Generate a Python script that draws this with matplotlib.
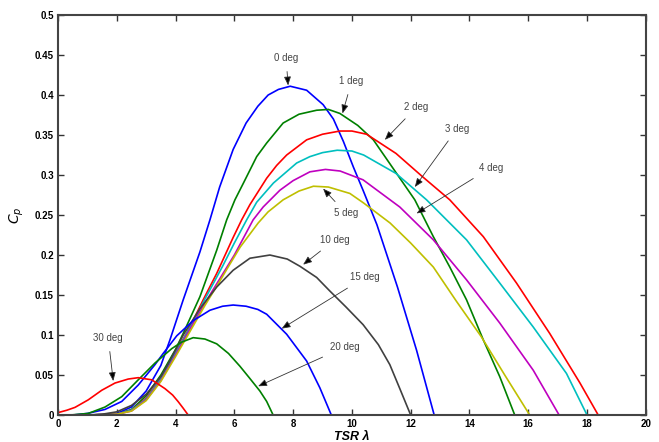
import matplotlib
matplotlib.use('Agg')
import matplotlib.pyplot as plt

# Cp vs tip speed ratio, one curve per pitch angle
lam_0 = [0, 1, 1.5, 2, 2.5, 3, 3.5, 3.81, 4.26, 4.83, 5.17, 5.5, 5.96, 6.4, 6.8, 7.15, 7.5, 7.9, 8.46, 9.02, 9.37, 9.71, 10.05, 10.39, 10.85, 11.55, 12.2, 12.8]
cp_0 = [0, 0, 0.0005, 0.002, 0.01, 0.03, 0.062, 0.094, 0.144, 0.204, 0.244, 0.285, 0.332, 0.365, 0.386, 0.4, 0.407, 0.411, 0.406, 0.388, 0.37, 0.342, 0.31, 0.28, 0.238, 0.16, 0.081, 0]

lam_1 = [0, 1, 2, 2.5, 3, 3.5, 4, 4.26, 4.83, 5.4, 5.74, 6.02, 6.31, 6.76, 7.1, 7.66, 8.2, 8.8, 9.2, 9.59, 10.2, 10.73, 11.52, 12.14, 12.77, 13.33, 13.9, 14.47, 15.03, 15.54]
cp_1 = [0, 0, 0.001, 0.007, 0.024, 0.05, 0.082, 0.102, 0.148, 0.206, 0.244, 0.269, 0.29, 0.323, 0.34, 0.365, 0.376, 0.381, 0.382, 0.377, 0.362, 0.344, 0.302, 0.269, 0.223, 0.185, 0.144, 0.094, 0.048, 0]

lam_2 = [0, 1, 2, 2.5, 3, 3.5, 4, 4.49, 4.94, 5.4, 5.96, 6.25, 6.53, 7.1, 7.44, 7.78, 8.46, 9.0, 9.59, 10.0, 10.5, 11.5, 12.4, 13.33, 14.47, 15.6, 16.73, 17.76, 18.38]
cp_2 = [0, 0, 0.001, 0.006, 0.021, 0.046, 0.078, 0.11, 0.144, 0.177, 0.222, 0.244, 0.263, 0.296, 0.312, 0.325, 0.344, 0.351, 0.355, 0.355, 0.351, 0.327, 0.298, 0.269, 0.223, 0.165, 0.102, 0.04, 0]

lam_3 = [0, 1, 2, 2.5, 3, 3.5, 4, 4.5, 5, 5.6, 6.0, 6.42, 6.76, 7.33, 8.12, 8.57, 9.0, 9.5, 10.0, 10.4, 11.5, 12.54, 13.9, 15.03, 16.17, 17.3, 18.0]
cp_3 = [0, 0, 0.001, 0.006, 0.02, 0.045, 0.077, 0.11, 0.145, 0.186, 0.215, 0.244, 0.266, 0.29, 0.315, 0.323, 0.328, 0.331, 0.33, 0.325, 0.302, 0.269, 0.219, 0.165, 0.11, 0.052, 0]

lam_4 = [0, 1, 2, 2.5, 3, 3.5, 4, 4.5, 5, 5.5, 6.0, 6.64, 6.98, 7.55, 8.0, 8.57, 9.1, 9.6, 10.38, 11.63, 12.77, 13.9, 15.03, 16.17, 17.05]
cp_4 = [0, 0, 0.001, 0.005, 0.019, 0.043, 0.075, 0.108, 0.14, 0.17, 0.2, 0.244, 0.26, 0.281, 0.293, 0.304, 0.307, 0.305, 0.294, 0.26, 0.219, 0.169, 0.115, 0.056, 0]

lam_5 = [0, 1, 2, 2.5, 3, 3.5, 4, 4.5, 5, 5.5, 5.79, 6.2, 6.81, 7.15, 7.66, 8.2, 8.69, 9.2, 9.93, 10.4, 11.3, 12.0, 12.77, 13.56, 14.4, 15.2, 16.05]
cp_5 = [0, 0, 0.001, 0.005, 0.018, 0.042, 0.073, 0.105, 0.137, 0.167, 0.185, 0.21, 0.24, 0.254, 0.269, 0.28, 0.286, 0.285, 0.277, 0.265, 0.24, 0.215, 0.185, 0.142, 0.098, 0.05, 0]

lam_10 = [0, 1, 1.5, 2, 2.5, 3, 3.5, 3.81, 4.26, 4.83, 5.4, 5.96, 6.53, 7.21, 7.8, 8.23, 8.8, 9.25, 9.8, 10.38, 10.9, 11.29, 11.63, 12.0]
cp_10 = [0, 0, 0.001, 0.004, 0.012, 0.026, 0.048, 0.068, 0.1, 0.133, 0.16, 0.181, 0.196, 0.2, 0.195, 0.186, 0.172, 0.155, 0.135, 0.113, 0.088, 0.063, 0.033, 0]

lam_15 = [0, 0.5, 1, 1.6, 2.17, 2.73, 3.3, 3.58, 4.04, 4.6, 5.17, 5.6, 5.96, 6.4, 6.8, 7.1, 7.78, 8.46, 8.91, 9.3]
cp_15 = [0, 0, 0.002, 0.007, 0.017, 0.0375, 0.063, 0.077, 0.099, 0.118, 0.131, 0.136, 0.1375, 0.136, 0.132, 0.126, 0.101, 0.0675, 0.034, 0]

lam_20 = [0, 0.5, 1.03, 1.6, 2.17, 2.73, 3.3, 3.87, 4.2, 4.6, 5.0, 5.4, 5.8, 6.19, 6.5, 6.87, 7.1, 7.32]
cp_20 = [0, 0.0003, 0.002, 0.01, 0.023, 0.044, 0.065, 0.083, 0.091, 0.0967, 0.095, 0.089, 0.077, 0.061, 0.047, 0.03, 0.017, 0]

lam_30 = [0, 0.3, 0.58, 1.03, 1.49, 1.94, 2.39, 2.73, 3.19, 3.64, 3.9, 4.09, 4.25, 4.43]
cp_30 = [0.003, 0.006, 0.0096, 0.019, 0.031, 0.04, 0.045, 0.0467, 0.044, 0.033, 0.025, 0.0167, 0.009, 0]

# label text, label position, arrow tip (data coords)
labels = ['0 deg', '1 deg', '2 deg', '3 deg', '4 deg', '5 deg', '10 deg', '15 deg', '20 deg', '30 deg']
label_xy = [(7.76, 0.446), (9.99, 0.417), (12.2, 0.385), (13.58, 0.358), (14.72, 0.309),
            (9.8, 0.252), (9.42, 0.219), (10.44, 0.172), (9.76, 0.085), (1.71, 0.096)]
tip_xy = [(7.83, 0.412), (9.68, 0.377), (11.12, 0.344), (12.14, 0.285), (12.2, 0.252),
          (9.02, 0.283), (8.34, 0.188), (7.61, 0.108), (6.81, 0.036), (1.88, 0.0425)]

x_ticks = [0, 2, 4, 6, 8, 10, 12, 14, 16, 18, 20]
y_ticks = [0, 0.05, 0.1, 0.15, 0.2, 0.25, 0.3, 0.35, 0.4, 0.45, 0.5]
y_tick_labels = ['0', '0.05', '0.1', '0.15', '0.2', '0.25', '0.3', '0.35', '0.4', '0.45', '0.5']

plt.rcParams['font.family'] = ['Liberation Sans', 'DejaVu Sans']

fig = plt.figure(figsize=(6.59, 4.42), dpi=100)
ax = fig.add_axes([0.088, 0.061, 0.892, 0.905])

# old matlab colour order
curves = [
    (lam_0, cp_0, '#0000ff'),
    (lam_1, cp_1, '#008000'),
    (lam_2, cp_2, '#ff0000'),
    (lam_3, cp_3, '#00bfbf'),
    (lam_4, cp_4, '#bf00bf'),
    (lam_5, cp_5, '#bfbf00'),
    (lam_10, cp_10, '#404040'),
    (lam_15, cp_15, '#0000ff'),
    (lam_20, cp_20, '#008000'),
    (lam_30, cp_30, '#ff0000'),
]
for lam, cp, col in curves:
    ax.plot(lam, cp, color=col, lw=1.2)

for txt, pos, tip in zip(labels, label_xy, tip_xy):
    ax.annotate(txt, xy=tip, xytext=pos, fontsize=7, color='#444444',
                ha='center', va='center',
                arrowprops=dict(arrowstyle='-|>,head_length=0.75,head_width=0.3',
                                lw=0.6, shrinkA=4, shrinkB=0,
                                fc='black', ec='#333333'))

ax.set_xlim(0, 20)
ax.set_ylim(0, 0.5)
ax.set_xticks(x_ticks)
ax.set_yticks(y_ticks)
ax.set_yticklabels(y_tick_labels)
ax.tick_params(direction='in', length=4, width=1, top=True, right=True,
               labelsize=7, pad=3, colors='#333333')
for lbl in ax.get_xticklabels() + ax.get_yticklabels():
    lbl.set_fontweight('bold')
    lbl.set_color('black')
for sp in ax.spines.values():
    sp.set_linewidth(1.5)
    sp.set_color('#444444')

# axis labels (x label is partly cut off at the bottom, as in the source)
ax.text(0.5, -0.04, 'TSR λ', transform=ax.transAxes, ha='center', va='top',
        fontsize=9, fontstyle='italic', fontweight='bold')
ax.text(-0.07, 0.5, r'$C_p$', transform=ax.transAxes, ha='center', va='center',
        rotation=90, fontsize=10, fontweight='bold')

fig.savefig('out.png', dpi=100)
